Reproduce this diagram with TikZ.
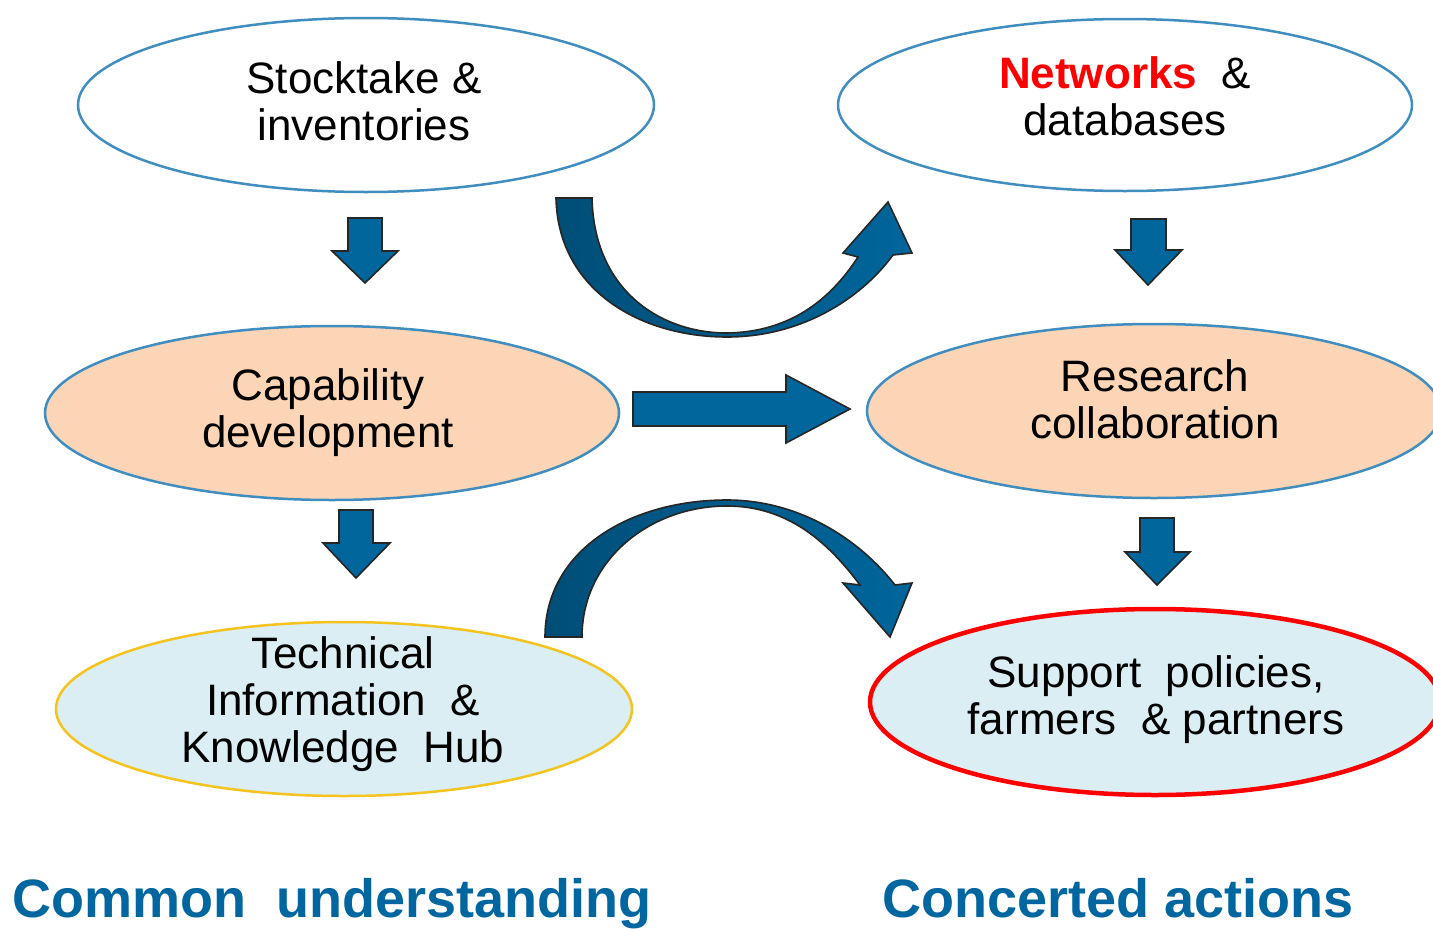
\documentclass[tikz,border=0pt]{standalone}
\usepackage{fontspec}
\setmainfont{Liberation Sans}
\usetikzlibrary{shapes.geometric}
\definecolor{ellblue}{RGB}{64,142,192}
\definecolor{peach}{RGB}{251,213,181}
\definecolor{lightblue}{RGB}{218,238,243}
\definecolor{gold}{RGB}{245,195,30}
\definecolor{arrowblue}{RGB}{0,102,156}
\definecolor{arrowdark}{RGB}{0,78,120}
\definecolor{labelblue}{RGB}{0,102,160}
\definecolor{netred}{RGB}{255,0,0}
\tikzset{
  ell/.style={ellipse, inner sep=0pt, line width=2.5pt, draw=ellblue},
  txt/.style={align=center, inner sep=0pt, text=black, font=\fontsize{44}{47}\selectfont},
  blockarrow/.style={fill=arrowblue, draw=black!85, line width=1.6pt, line join=miter},
  curvearrow/.style={left color=arrowdark, right color=arrowblue, draw=black!85, line width=1.6pt, line join=miter},
  biglabel/.style={anchor=base west, inner sep=0pt, text=labelblue, font=\fontsize{54}{58}\selectfont\bfseries}
}
\begin{document}
\begin{tikzpicture}[x=1pt,y=-1pt]
\path[use as bounding box] (0,0) rectangle (1433,929);
\clip (0,0) rectangle (1433,929);
\fill[white] (0,0) rectangle (1433,929);

% ellipses
\node[ell, fill=white, minimum width=576, minimum height=174] (stock) at (366,105) {};
\node[ell, fill=white, minimum width=574, minimum height=172] (net) at (1125,105) {};
\node[ell, fill=peach, minimum width=574, minimum height=174] (cap) at (332,413) {};
\node[ell, fill=peach, minimum width=574, minimum height=174] (res) at (1154,411) {};
\node[ell, fill=lightblue, draw=gold, minimum width=576, minimum height=174] (tech) at (344,709) {};
\node[ell, fill=lightblue, draw=netred, line width=4.5pt, minimum width=570, minimum height=186] (sup) at (1155,702) {};

% texts
\node[txt] (stockT) at (364,101) {Stocktake \&\\inventories};
\node[txt] (netT) at (1125,96) {{\color{netred}\bfseries Networks}~ \&\\databases};
\node[txt] (capT) at (328,413) {Capability\\development};
\node[txt] (resT) at (1155,399) {Research\\collaboration};
\node[txt] (techT) at (343,704) {Technical\\Information~ \&\\Knowledge~ Hub};
\node[txt] (supT) at (1156,700) {Support~ policies,\\farmers~ \& partners};

% straight down arrows
\draw[blockarrow] (348,218) -- (382,218) -- (382,251) -- (398,251) -- (365,283) -- (332,251) -- (348,251) -- cycle;
\draw[blockarrow] (1131,219) -- (1166,219) -- (1166,250) -- (1182,250) -- (1148,285) -- (1115,250) -- (1131,250) -- cycle;
\draw[blockarrow] (339,510) -- (373,510) -- (373,543) -- (390,543) -- (356,578) -- (323,543) -- (339,543) -- cycle;
\draw[blockarrow] (1140,518) -- (1174,518) -- (1174,552) -- (1190,552) -- (1157,585) -- (1125,552) -- (1140,552) -- cycle;

% right arrow
\draw[blockarrow] (633,392) -- (786,392) -- (786,375) -- (850,409) -- (786,443) -- (786,426) -- (633,426) -- cycle;

% curved arrow top (U)
\draw[curvearrow] (556,198) .. controls (558,290) and (640,337) .. (727,337)
  .. controls (800,337) and (860,300) .. (893,255)
  -- (912,253) -- (888,202) -- (843,253) -- (858,257)
  .. controls (830,300) and (790,332) .. (727,333)
  .. controls (660,333) and (594,290) .. (592,198) -- cycle;

% curved arrow bottom (arch)
\draw[curvearrow] (545,637) .. controls (545,550) and (630,500) .. (727,500)
  .. controls (800,500) and (860,540) .. (895,585)
  -- (912,583) -- (890,637) -- (843,583) -- (860,585)
  .. controls (830,545) and (790,506) .. (727,506)
  .. controls (650,506) and (582,560) .. (582,637) -- cycle;

% labels
\node[biglabel] (common) at (12,917) {Common~ understanding};
\node[biglabel] (concerted) at (882,917) {Concerted actions};
\end{tikzpicture}
\end{document}
